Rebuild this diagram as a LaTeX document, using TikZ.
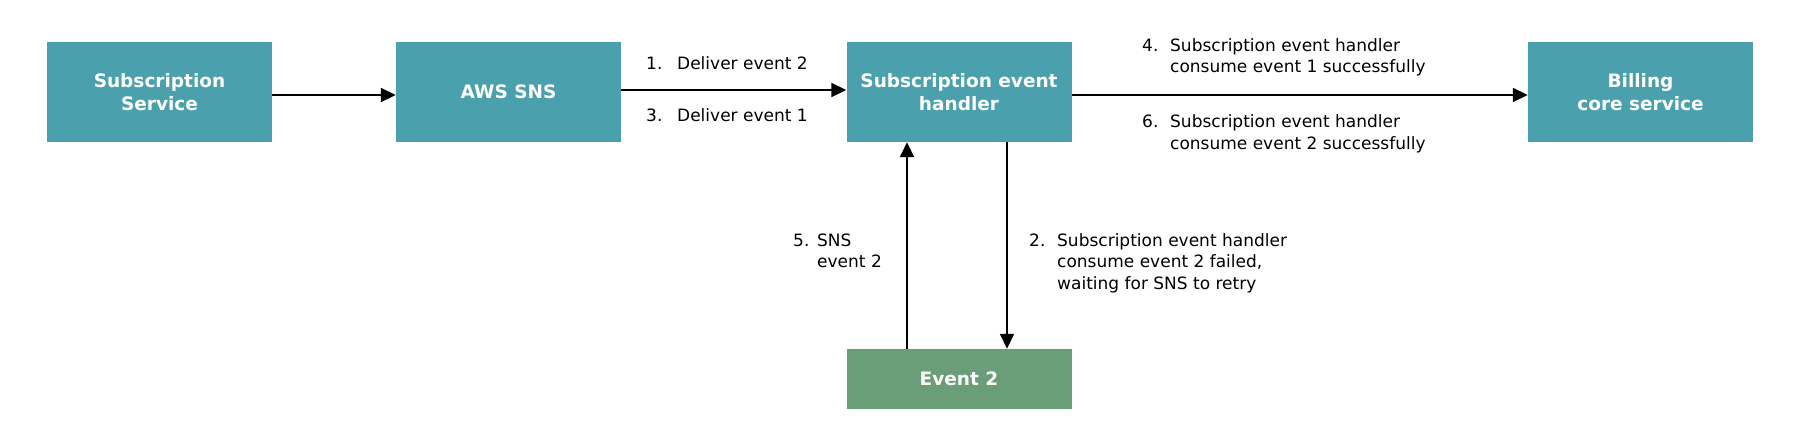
\documentclass[tikz,border=0pt]{standalone}
\usepackage{fontspec}
\setmainfont{DejaVu Sans}
\usetikzlibrary{arrows.meta}
\definecolor{tealbox}{RGB}{74,161,173}
\definecolor{greenbox}{RGB}{106,158,120}
\begin{document}
\begin{tikzpicture}[x=1pt,y=-1pt,
  box/.style={fill=tealbox, draw=none, minimum width=225pt, minimum height=100pt, inner sep=0pt,
    text=white, align=center, font=\fontsize{18.5}{22.5}\selectfont\bfseries},
  lbl/.style={anchor=west, inner sep=0pt, font=\fontsize{17}{21.5}\selectfont, text=black},
  arr/.style={line width=1.8pt, -{Triangle[length=15pt,width=14pt]}}]
\path[use as bounding box, fill=white] (0,0) rectangle (1800,446);
\node[box] (ss) at (159.5,92) {Subscription\\Service};
\node[box] (sns) at (508.5,92) {AWS SNS};
\node[box] (h) at (959,92) {Subscription event\\handler};
\node[box] (bill) at (1640.5,92) {Billing\\core service};
\node[box, fill=greenbox, minimum height=60pt] (ev) at (959,379) {Event 2};

\draw[arr] ([yshift=-3pt]ss.east) -- ([yshift=-3pt]sns.west);
\draw[arr] ([yshift=2pt]sns.east) -- ([yshift=2pt]h.west);
\draw[arr] ([yshift=-3pt]h.east) -- ([yshift=-3pt]bill.west);
\draw[arr] ([xshift=-52pt]ev.north) -- ([xshift=-52pt]h.south);
\draw[arr] ([xshift=48pt]h.south) -- ([xshift=48pt]ev.north);

\node[lbl] (l1) at (646,65) {\begin{tabular}{@{}p{31pt}@{}l@{}}1. & Deliver event 2\end{tabular}};
\node[lbl] (l3) at (646,117) {\begin{tabular}{@{}p{31pt}@{}l@{}}3. & Deliver event 1\end{tabular}};
\node[lbl] (l4) at (1142,57.5) {\begin{tabular}{@{}p{28pt}@{}l@{}}4. & Subscription event handler\\ & consume event 1 successfully\end{tabular}};
\node[lbl] (l6) at (1142,134) {\begin{tabular}{@{}p{28pt}@{}l@{}}6. & Subscription event handler\\ & consume event 2 successfully\end{tabular}};
\node[lbl] (l5) at (793,252.5) {\begin{tabular}{@{}p{24pt}@{}l@{}}5. & SNS\\ & event 2\end{tabular}};
\node[lbl] (l2) at (1029,263.5) {\begin{tabular}{@{}p{28pt}@{}l@{}}2. & Subscription event handler\\ & consume event 2 failed,\\ & waiting for SNS to retry\end{tabular}};
\end{tikzpicture}
\end{document}
